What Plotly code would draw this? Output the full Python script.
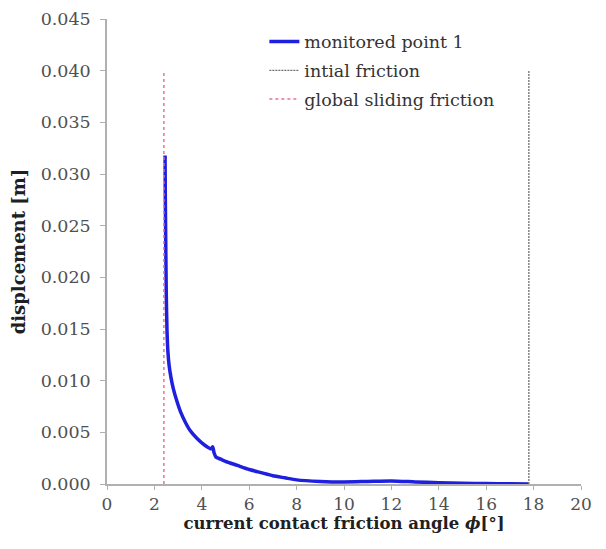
import plotly.graph_objects as go

# curve: monitored point 1
friction_angle = [2.45, 2.46, 2.48, 2.50, 2.53, 2.57, 2.62, 2.70, 2.80, 2.95, 3.10, 3.30, 3.50, 3.80, 4.10, 4.40, 4.46, 4.52, 4.60, 4.80,
                  5.00, 5.50, 6.00, 6.50, 7.00, 7.50, 8.00, 9.00, 10.00, 11.00, 12.00, 13.00, 14.00, 15.00, 16.00, 17.00, 17.80]
displacement = [0.0318, 0.0280, 0.0230, 0.0185, 0.0150, 0.0128, 0.0115, 0.0103, 0.0092, 0.0080, 0.0070, 0.0060, 0.0052, 0.0044, 0.0038, 0.0034, 0.0036, 0.0030, 0.0026, 0.0024,
                0.0022, 0.0018, 0.0014, 0.0011, 0.0008, 0.0006, 0.0004, 0.00025, 0.0002, 0.00025, 0.0003, 0.0002, 0.00012, 0.00008, 0.00004, 0.00002, 0.0]

initial_friction = 17.8
global_sliding_friction = 2.4
ref_line_top = 0.040

x_ticks = [0, 2, 4, 6, 8, 10, 12, 14, 16, 18, 20]
y_ticks = [0.000, 0.005, 0.010, 0.015, 0.020, 0.025, 0.030, 0.035, 0.040, 0.045]

fig = go.Figure()
fig.add_trace(go.Scatter(x=friction_angle, y=displacement, mode="lines",
                         name="monitored point 1", legendgroup="a",
                         line=dict(color="#1f1fe0", width=3.5, shape="spline", smoothing=0.6)))
fig.add_trace(go.Scatter(x=[initial_friction, initial_friction], y=[0, ref_line_top], mode="lines",
                         name="intial friction", legendgroup="b",
                         line=dict(color="#707070", width=1.3, dash="2px,1px")))
fig.add_trace(go.Scatter(x=[global_sliding_friction, global_sliding_friction], y=[0, ref_line_top], mode="lines",
                         name="global sliding friction", legendgroup="c",
                         line=dict(color="#f07090", width=1.5, dash="3px,3px")))

font_family = "DejaVu Serif, serif"
fig.update_layout(
    width=606, height=549,
    margin=dict(l=99, r=33, t=11, b=73),
    paper_bgcolor="white", plot_bgcolor="white",
    font=dict(family=font_family, size=16, color="#404040"),
    showlegend=True,
    legend=dict(x=0.332, y=0.99, xanchor="left", yanchor="top",
                bgcolor="rgba(0,0,0,0)", font=dict(size=17.5, color="#333333"),
                tracegroupgap=3, itemwidth=30),
    xaxis=dict(range=[0, 20], tickvals=x_ticks, ticktext=[str(v) for v in x_ticks],
               showgrid=False, zeroline=False, showline=True, linecolor="#b0b0b0", linewidth=1.5,
               ticks="outside", ticklen=4, tickcolor="#b0b0b0", automargin=False,
               tickfont=dict(size=17, color="#505050"),
               title=dict(text="<b>current contact friction angle <i>ϕ</i>[°]</b>",
                          font=dict(size=16.5, color="#202020"), standoff=2)),
    yaxis=dict(range=[0, 0.045], tickvals=y_ticks, ticktext=[f"{v:.3f}" for v in y_ticks],
               showgrid=False, zeroline=False, showline=True, linecolor="#b0b0b0", linewidth=1.5,
               ticks="outside", ticklen=5, tickcolor="#b0b0b0", automargin=False,
               ticklabelstandoff=6,
               tickfont=dict(size=17.5, color="#505050"),
               title=dict(text="<b>displcement [m]</b>", font=dict(size=18, color="#202020"), standoff=10)),
)

fig.write_html("out.html")
